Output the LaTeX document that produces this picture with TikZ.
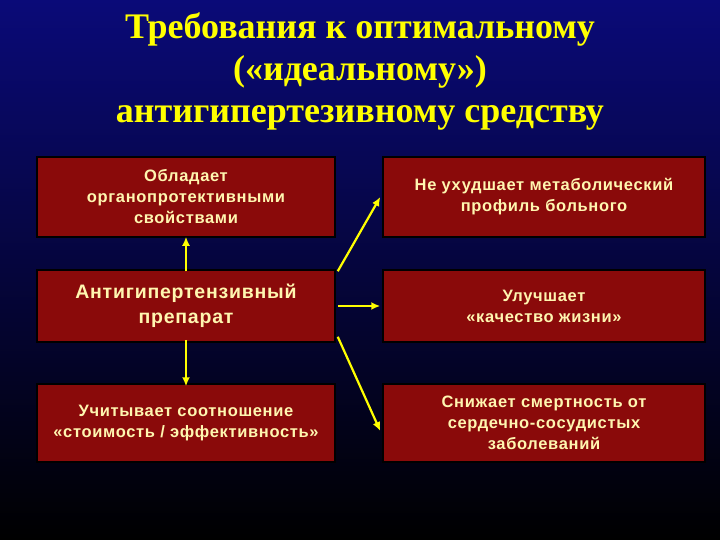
\documentclass[tikz,border=0pt]{standalone}
\usepackage{fontspec}
\usetikzlibrary{arrows.meta}
\setmainfont{Liberation Serif}
\setsansfont{Liberation Sans}[LetterSpace=4]
\definecolor{navy}{HTML}{0A0A78}
\definecolor{boxred}{HTML}{8A0A0A}
\definecolor{txt}{HTML}{FFF6B0}
\definecolor{ttl}{HTML}{FFFF00}
\begin{document}
\begin{tikzpicture}[x=1pt,y=-1pt,
  box/.style={draw=black,line width=1.5pt,fill=boxred,minimum width=298pt,minimum height=78pt,align=center,text=txt,font=\sffamily\bfseries\fontsize{16.5}{21}\selectfont,inner sep=2pt},
  arr/.style={draw=ttl,line width=2.2pt,-{Latex[length=9pt,width=8pt]}}]
\shade[top color=navy,bottom color=black] (0,0) rectangle (720,540);
\useasboundingbox (0,0) rectangle (720,540);
\node[text=ttl,font=\bfseries\fontsize{36}{42}\selectfont,align=center] (title) at (360,72) {Требования к оптимальному\\(«идеальному»)\\антигипертезивному средству};
\node[box,minimum height=80pt] (l1) at (186,197) {Обладает\\органопротективными\\свойствами};
\node[box,minimum width=322pt,minimum height=80pt] (r1) at (544,197) {Не ухудшает метаболический\\профиль больного};
\node[box,minimum height=72pt,font=\sffamily\bfseries\fontsize{19.5}{25}\selectfont] (l2) at (186,306) {Антигипертензивный\\препарат};
\node[box,minimum width=322pt,minimum height=72pt] (r2) at (544,306) {Улучшает\\«качество жизни»};
\node[box] (l3) at (186,423) {Учитывает соотношение\\«стоимость / эффективность»};
\node[box,minimum width=322pt] (r3) at (544,423) {Снижает смертность от\\сердечно-сосудистых\\заболеваний};
\draw[arr] ([yshift=-2pt]l2.north) -- ([yshift=1pt]l1.south);
\draw[arr] ([yshift=3pt]l2.south) -- ([yshift=-3pt]l3.north);
\draw[arr] ([xshift=2pt,yshift=-2pt]l2.north east) -- ([xshift=-2pt]r1.west);
\draw[arr] ([xshift=2pt]l2.east) -- ([xshift=-2pt]r2.west);
\draw[arr] ([xshift=2pt,yshift=6pt]l2.south east) -- ([xshift=-2pt,yshift=-8pt]r3.west);
\end{tikzpicture}
\end{document}
